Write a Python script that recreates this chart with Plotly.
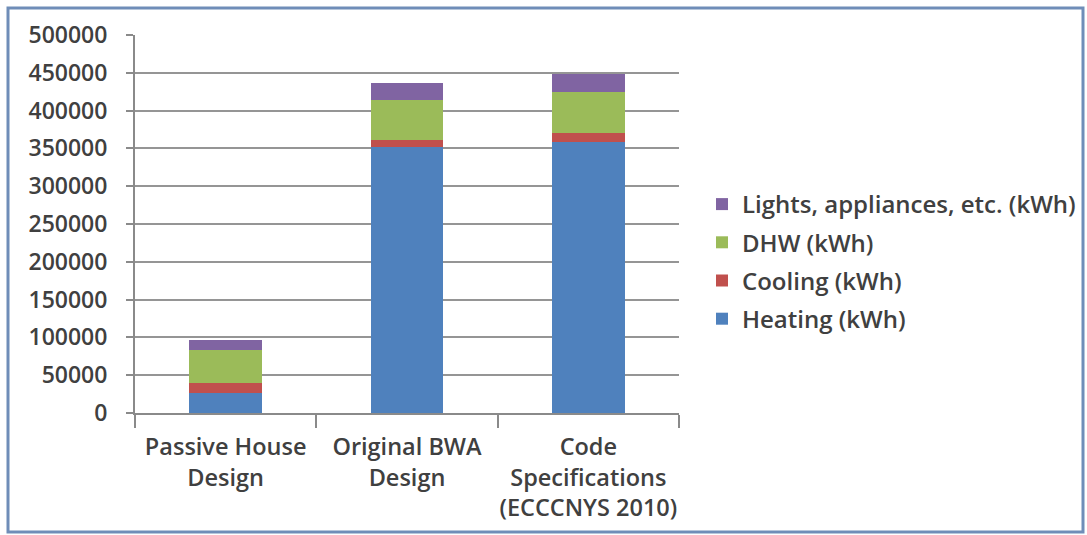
import plotly.graph_objects as go

# Annual energy use per design scenario (kWh)
categories = ["Passive House<br>Design", "Original BWA<br>Design",
              "Code<br>Specifications<br>(ECCCNYS 2010)"]
heating = [27000, 352000, 359000]
cooling = [13000, 9000, 11000]
dhw = [43000, 53000, 54000]
lights = [14000, 22000, 24000]

series_names = ["Heating (kWh)", "Cooling (kWh)", "DHW (kWh)",
                "Lights, appliances, etc. (kWh)"]
series_values = [heating, cooling, dhw, lights]
series_colors = ["#4F81BD", "#C0504D", "#9BBB59", "#8064A2"]

y_tickvals = list(range(0, 500001, 50000))

FONT = "Open Sans"
TEXT = "#404040"
W, H = 1087, 535
L, R, T, B = 135, W - 679, 35, H - 413

fig = go.Figure()
n = len(series_names)
for i, (name, vals, col) in enumerate(zip(series_names, series_values, series_colors)):
    # top segment of the stack is listed first in the legend
    fig.add_trace(go.Bar(
        x=categories, y=vals, name=name, marker_color=col,
        marker_line_width=0, width=0.4, legendgroup=name,
        legendrank=n - i,
    ))

pw, ph = W - L - R, H - T - B


def px_x(v):
    return (v - L) / pw


def px_y(v):
    return (H - B - v) / ph


fig.update_layout(
    width=W, height=H,
    margin=dict(l=L, r=R, t=T, b=B, autoexpand=False),
    barmode="stack",
    paper_bgcolor="white", plot_bgcolor="white",
    font=dict(family=FONT, size=22, color=TEXT, weight=600),
    legend=dict(
        x=px_x(702), y=px_y(182), xanchor="left", yanchor="top",
        traceorder="grouped", tracegroupgap=4,
        font=dict(family=FONT, size=24, color=TEXT, weight=600),
        bgcolor="rgba(0,0,0,0)",
    ),
    xaxis=dict(
        showline=True, linecolor="#8a8a8a", linewidth=2,
        ticks="outside", tickson="boundaries", ticklen=13,
        tickcolor="#8a8a8a", tickwidth=2, ticklabelstandoff=12,
        tickangle=0,
        tickfont=dict(family=FONT, size=23.5, color=TEXT, weight=600),
        showgrid=False,
    ),
    yaxis=dict(
        range=[0, 500000], tickvals=y_tickvals, tickformat="d",
        showline=True, linecolor="#8a8a8a", linewidth=2,
        ticks="outside", ticklen=7, tickcolor="#8a8a8a", tickwidth=2,
        ticklabelstandoff=14,
        showgrid=True, gridcolor="#959595", gridwidth=1.5,
        zeroline=False,
        tickfont=dict(family=FONT, size=23, color=TEXT, weight=600),
    ),
    shapes=[dict(
        type="rect", xref="paper", yref="paper",
        x0=px_x(8), x1=px_x(1083), y0=px_y(532), y1=px_y(8),
        line=dict(color="#6F8DB8", width=3), fillcolor="rgba(0,0,0,0)",
        layer="below",
    )],
)

fig.write_html("out.html")
